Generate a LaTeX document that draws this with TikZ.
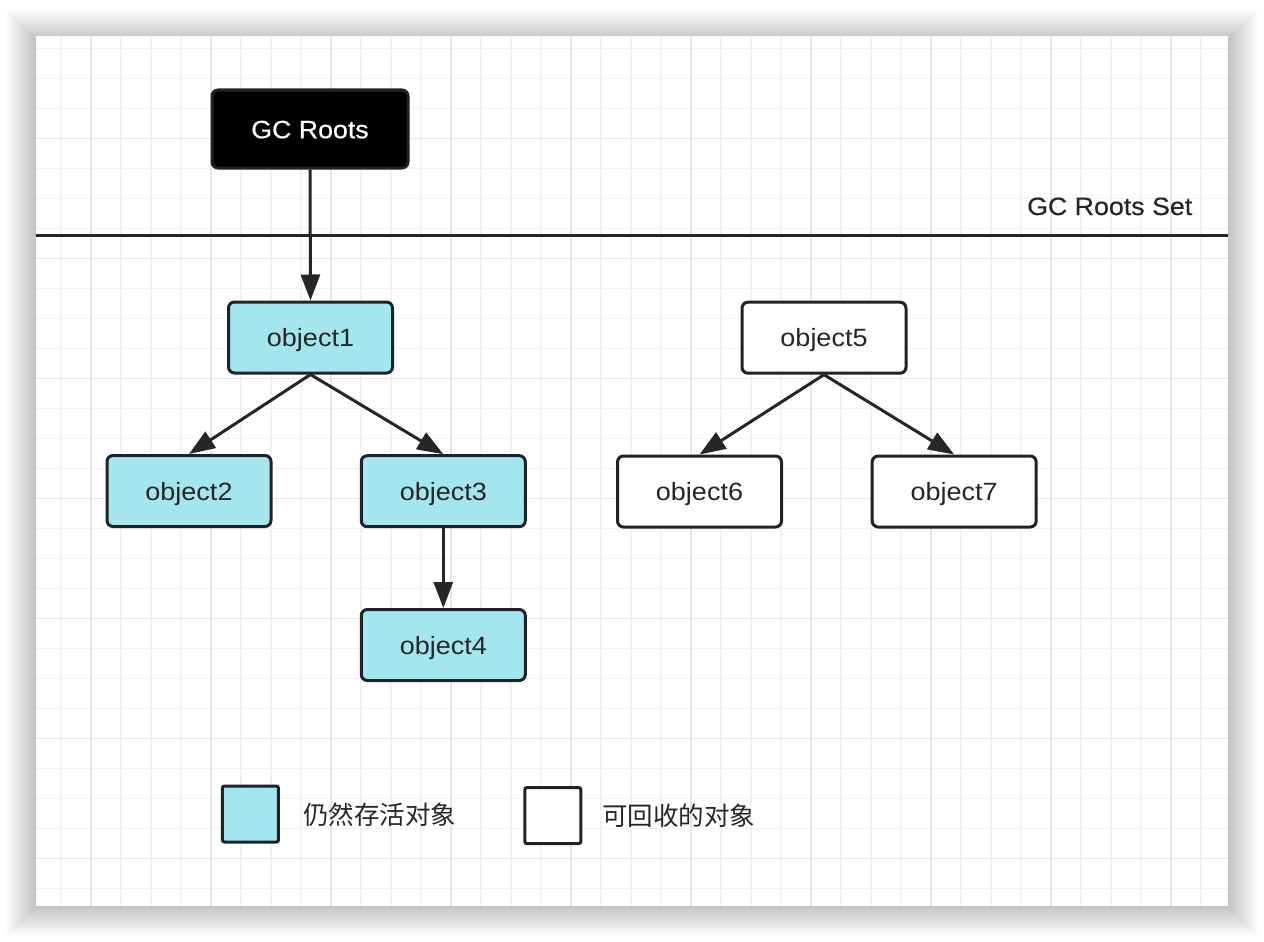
\documentclass[tikz,border=0pt]{standalone}
\usepackage{fontspec}
\setmainfont[FakeStretch=1.08]{Liberation Sans}
\newfontfamily\medfont[FakeStretch=1.07,FakeBold=0.5]{Liberation Sans}
\newfontfamily\cjk{Noto Sans CJK SC}
\usetikzlibrary{arrows.meta}
\definecolor{live}{HTML}{A4E6EE}
\definecolor{edge}{HTML}{1F2329}
\definecolor{ink}{HTML}{262626}
\definecolor{gminor}{HTML}{F2F2F2}
\definecolor{gmajor}{HTML}{E6E6E6}
\tikzset{
  obj/.style={draw=edge, line width=3pt, rounded corners=6pt, minimum width=164pt, minimum height=71pt,
    inner sep=0pt, text height=18.4pt, text depth=0pt, text=ink, font=\fontsize{25}{30}\selectfont},
  livebox/.style={obj, fill=live},
  deadbox/.style={obj, fill=white},
  conn/.style={draw=ink, line width=3pt, -{Triangle[length=26pt,width=19pt]}},
  legsq/.style={draw=edge, line width=3pt, rounded corners=2pt, minimum size=56pt, inner sep=0pt},
  legtext/.style={anchor=west, inner sep=0pt, text=ink, font=\cjk\fontsize{25.5}{30}\selectfont},
}
\begin{document}
\begin{tikzpicture}[x=1pt,y=-1pt]
\useasboundingbox (0,0) rectangle (1264,942);
% shadow
\foreach \i in {1,...,30}{
  \fill[black, opacity=0.0065] (36-\i,40-\i) rectangle (1228+\i,906+\i);
}
% canvas
\fill[white] (36,36) rectangle (1228,906);
% grid
\foreach \x in {61,91,...,1201}{ \draw[gminor, line width=1.5pt] (\x,36) -- (\x,906); }
\foreach \y in {48.5,78.5,...,890}{ \draw[gminor, line width=1.5pt] (36,\y) -- (1228,\y); }
\foreach \x in {91,211,...,1171}{ \draw[gmajor, line width=1.5pt] (\x,36) -- (\x,906); }
\foreach \y in {138.5,258.5,...,860}{ \draw[gmajor, line width=1.5pt] (36,\y) -- (1228,\y); }
% GC roots set line
\coordinate (setL) at (36,235.5);
\coordinate (setR) at (1228,235.5);
\draw[ink, line width=3pt] (setL) -- (setR);
\node[anchor=base west, inner sep=0pt, text=ink, font=\medfont\fontsize{25}{30}\selectfont] (setlabel) at (1027,215) {GC Roots Set};
% nodes
\node[obj, fill=black, draw=edge, text=white, minimum width=196pt, minimum height=78pt, font=\medfont\fontsize{25}{30}\selectfont] (root) at (310,129) {GC Roots};
\node[livebox] (o1) at (310.5,337.5) {object1};
\node[livebox] (o2) at (189,491) {object2};
\node[livebox] (o3) at (443.3,491.2) {object3};
\node[livebox] (o4) at (443.3,645) {object4};
\node[deadbox] (o5) at (824,337.7) {object5};
\node[deadbox] (o6) at (699.5,491.5) {object6};
\node[deadbox] (o7) at (954.2,491.5) {object7};
% connectors
\draw[conn] (root.south) -- (o1.north);
\draw[conn] (o1.south) -- (o2.north);
\draw[conn] (o1.south) -- (o3.north);
\draw[conn] (o3.south) -- (o4.north);
\draw[conn] (o5.south) -- (o6.north);
\draw[conn] (o5.south) -- (o7.north);
% legend
\node[legsq, fill=live] (leg1) at (250.4,814) {};
\node[legtext] (leg1t) at (303,815) {仍然存活对象};
\node[legsq, fill=white] (leg2) at (552.8,815.6) {};
\node[legtext] (leg2t) at (602,815.5) {可回收的对象};
\end{tikzpicture}
\end{document}
